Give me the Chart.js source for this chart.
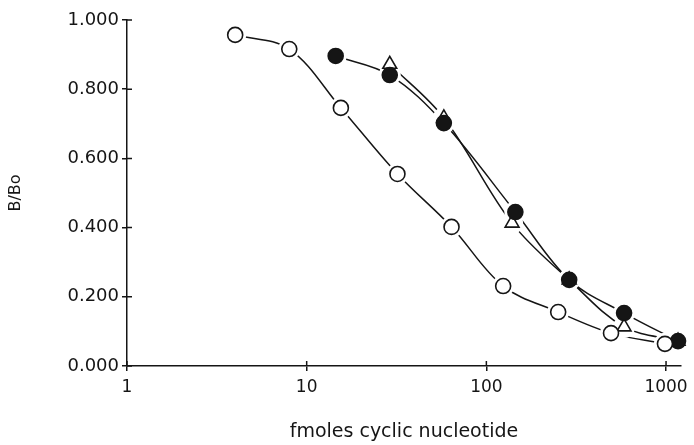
<!DOCTYPE html>
<html>
<head>
<meta charset="utf-8">
<script src="https://cdn.jsdelivr.net/npm/chart.js@4.4.1/dist/chart.umd.min.js"></script>
<style>
  html, body { margin: 0; padding: 0; background: #fff; }
  #wrap { width: 694px; height: 445px; }
</style>
</head>
<body>
<div id="wrap"><canvas id="chart" width="694" height="445"></canvas></div>
<script>
// Giá trị
const openX = [4, 8, 15.5, 32, 64, 124, 251, 494, 986];
const openY = [0.957, 0.916, 0.746, 0.555, 0.402, 0.231, 0.156, 0.095, 0.064];
const filledX = [14.5, 29, 58, 145, 289, 584, 1166];
const filledY = [0.896, 0.841, 0.702, 0.445, 0.249, 0.153, 0.072];
const triX = [29, 58, 139, 289, 584, 1166];
const triY = [0.872, 0.717, 0.413, 0.249, 0.113, 0.072];
const xTicks = [1, 10, 100, 1000];

function toPoints(xs, ys) {
    return xs.map((x, i) => ({ x: x, y: ys[i] }));
}

const ink = '#151515';
Chart.defaults.font.family = '"DejaVu Sans", Verdana, sans-serif';
Chart.defaults.color = ink;

// đường cong (không có điểm)
function curve(data) {
    return {
        data: data,
        order: 10,
        borderColor: ink,
        borderWidth: 1.5,
        tension: 0.35,
        pointRadius: 0,
    };
}

// vầng trắng quanh điểm, tạo khoảng hở trên đường
function halo(data) {
    return {
        data: data,
        order: 5,
        showLine: false,
        pointRadius: 11,
        pointBorderWidth: 0,
        pointBackgroundColor: '#fff',
        pointBorderColor: '#fff',
    };
}

function markers(data, style, fill, radius, order) {
    return {
        data: data,
        order: order,
        showLine: false,
        pointStyle: style,
        pointRadius: radius,
        pointBorderWidth: 1.6,
        pointBackgroundColor: fill,
        pointBorderColor: ink,
    };
}

// vạch chia cắt ngang trục (phần bên trong)
const innerTicks = {
    id: 'innerTicks',
    afterDraw(chart) {
        const c = chart.ctx, x = chart.scales.x, y = chart.scales.y;
        c.save();
        c.strokeStyle = ink;
        c.lineWidth = 1.5;
        c.beginPath();
        x.ticks.forEach(t => {
            const px = x.getPixelForValue(t.value);
            c.moveTo(px, y.bottom);
            c.lineTo(px, y.bottom - 5);
        });
        y.ticks.forEach(t => {
            const py = y.getPixelForValue(t.value);
            c.moveTo(x.left, py);
            c.lineTo(x.left + 5, py);
        });
        c.stroke();
        c.restore();
    },
};

const openPts = toPoints(openX, openY);
const filledPts = toPoints(filledX, filledY);
const triPts = toPoints(triX, triY);

const ctx = document.getElementById('chart').getContext('2d');
new Chart(ctx, {
    type: 'line',
    data: {
        datasets: [
            curve(openPts), curve(filledPts), curve(triPts),
            halo(openPts), halo(filledPts), halo(triPts),
            markers(openPts, 'circle', '#fff', 7.5, 1),
            markers(filledPts, 'circle', ink, 7.5, 2),
            markers(triPts, 'triangle', '#fff', 8, 3),
        ],
    },
    plugins: [innerTicks],
    options: {
        responsive: false,
        animation: false,
        clip: false,
        layout: { padding: { left: 0, right: 12, top: 20, bottom: 0 } },
        plugins: { legend: { display: false }, tooltip: { enabled: false } },
        scales: {
            x: {
                type: 'logarithmic',
                min: 1,
                max: 1210,
                afterBuildTicks: (axis) => { axis.ticks = xTicks.map(v => ({ value: v })); },
                afterFit: (scale) => { scale.height = 79; },
                ticks: {
                    font: { size: 17 },
                    padding: 6,
                    maxRotation: 0,
                    callback: (v) => String(v),
                },
                grid: { drawOnChartArea: false, color: ink, tickLength: 5, lineWidth: 1.5 },
                border: { color: ink, width: 1.5 },
                title: {
                    display: true,
                    text: 'fmoles cyclic nucleotide',
                    font: { size: 19 },
                    padding: { top: 0, bottom: 2 },
                },
            },
            y: {
                min: 0,
                max: 1,
                afterFit: (scale) => { scale.width = 127; },
                ticks: {
                    stepSize: 0.2,
                    font: { size: 18 },
                    padding: 3,
                    callback: (v) => v.toFixed(3),
                },
                grid: { drawOnChartArea: false, color: ink, tickLength: 5, lineWidth: 1.5 },
                border: { color: ink, width: 1.5 },
                title: {
                    display: true,
                    text: 'B/Bo',
                    font: { size: 16 },
                    padding: { top: 6, bottom: 0 },
                },
            },
        },
    },
});
</script>
</body>
</html>
